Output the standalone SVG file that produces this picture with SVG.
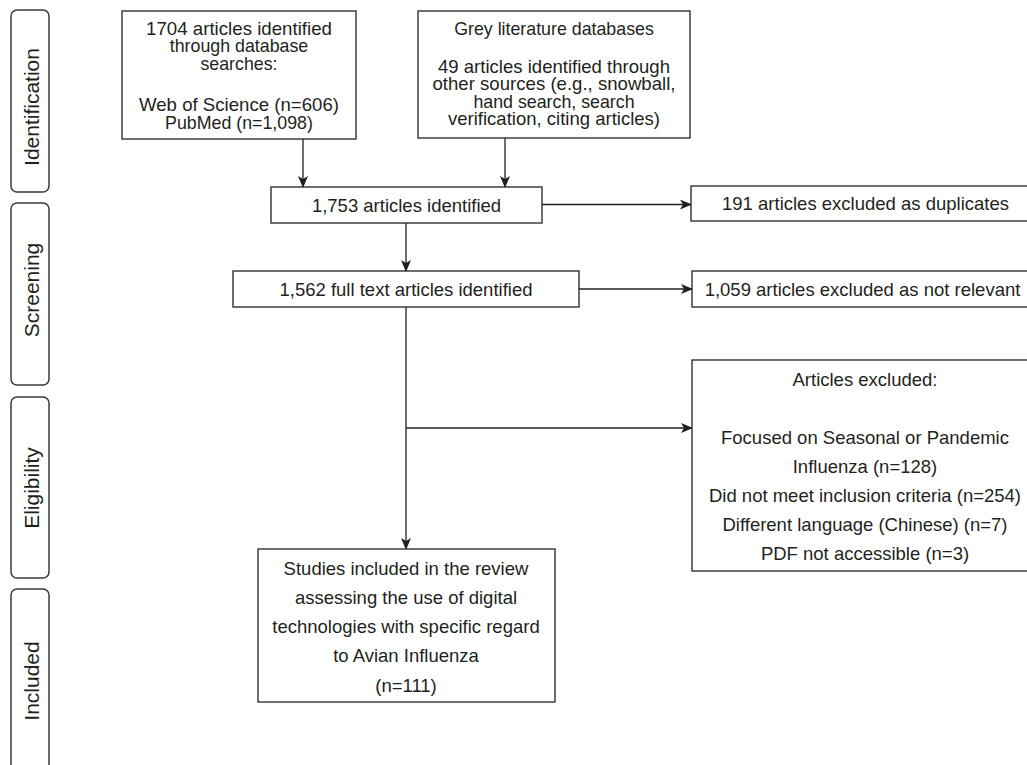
<svg xmlns="http://www.w3.org/2000/svg" width="1027" height="765" viewBox="0 0 1027 765">
<style>
  .box{fill:#fff;stroke:#231f20;stroke-width:1.3}
  .side{fill:#fff;stroke:#3a3a3a;stroke-width:1.5}
  text{font-family:"Liberation Sans",Arial,Helvetica,sans-serif;font-size:18.5px;fill:#231f20;text-anchor:middle}
  .tight{font-size:17.8px}
  .sl{font-size:21px}
  .ln{fill:none;stroke:#231f20;stroke-width:1.3}
</style>
<defs>
  <marker id="ah" markerWidth="12" markerHeight="10" refX="11" refY="5" orient="auto" markerUnits="userSpaceOnUse">
    <path d="M0,0 L12,5 L0,10 L3,5 Z" fill="#231f20"/>
  </marker>
</defs>
<rect width="1027" height="765" fill="#fff"/>

<g id="phase-identification">
  <rect class="side" x="11" y="10" width="38" height="182" rx="6"/>
  <text class="sl" transform="translate(38.5,107) rotate(-90)">Identification</text>
</g>
<g id="phase-screening">
  <rect class="side" x="11" y="203" width="38" height="182" rx="6"/>
  <text class="sl" transform="translate(38.5,290) rotate(-90)">Screening</text>
</g>
<g id="phase-eligibility">
  <rect class="side" x="11" y="397" width="38" height="181" rx="6"/>
  <text class="sl" transform="translate(38.5,488) rotate(-90)">Eligibility</text>
</g>
<g id="phase-included">
  <rect class="side" x="11" y="589" width="38" height="200" rx="6"/>
  <text class="sl" transform="translate(38.5,681) rotate(-90)">Included</text>
</g>

<g id="connectors">
  <line class="ln" x1="303" y1="139" x2="303" y2="187" marker-end="url(#ah)"/>
  <line class="ln" x1="505" y1="138" x2="505" y2="187" marker-end="url(#ah)"/>
  <line class="ln" x1="542" y1="204.5" x2="691" y2="204.5" marker-end="url(#ah)"/>
  <line class="ln" x1="406" y1="223" x2="406" y2="271" marker-end="url(#ah)"/>
  <line class="ln" x1="579" y1="289" x2="692" y2="289" marker-end="url(#ah)"/>
  <line class="ln" x1="406" y1="307" x2="406" y2="549" marker-end="url(#ah)"/>
  <line class="ln" x1="406" y1="428" x2="692" y2="428" marker-end="url(#ah)"/>
</g>

<g id="db-search">
  <rect class="box" x="122" y="11" width="234" height="128"/>
  <text class="tight" x="239" y="34.5" textLength="186" lengthAdjust="spacingAndGlyphs">1704 articles identified</text>
  <text class="tight" x="239" y="52">through database</text>
  <text class="tight" x="239" y="69.5">searches:</text>
  <text class="tight" x="239" y="111" textLength="200" lengthAdjust="spacingAndGlyphs">Web of Science (n=606)</text>
  <text class="tight" x="239" y="128.5">PubMed (n=1,098)</text>
</g>
<g id="grey-lit">
  <rect class="box" x="418" y="11" width="272" height="127"/>
  <text class="tight" x="554" y="34.5">Grey literature databases</text>
  <text class="tight" x="554" y="72.5" textLength="232" lengthAdjust="spacingAndGlyphs">49 articles identified through</text>
  <text class="tight" x="554" y="90" textLength="243" lengthAdjust="spacingAndGlyphs">other sources (e.g., snowball,</text>
  <text class="tight" x="554" y="107.5">hand search, search</text>
  <text class="tight" x="554" y="125" textLength="212" lengthAdjust="spacingAndGlyphs">verification, citing articles)</text>
</g>
<g id="identified">
  <rect class="box" x="271" y="187" width="271" height="36"/>
  <text x="406.5" y="212">1,753 articles identified</text>
</g>
<g id="duplicates">
  <rect class="box" x="691" y="186" width="349" height="35"/>
  <text x="865.5" y="210">191 articles excluded as duplicates</text>
</g>
<g id="full-text">
  <rect class="box" x="233" y="271" width="346" height="36"/>
  <text x="406" y="295.5">1,562 full text articles identified</text>
</g>
<g id="not-relevant">
  <rect class="box" x="692" y="271" width="348" height="36"/>
  <text x="862.5" y="295.5">1,059 articles excluded as not relevant</text>
</g>
<g id="excluded">
  <rect class="box" x="692" y="360" width="348" height="211"/>
  <text x="865" y="385.5">Articles excluded:</text>
  <text x="865" y="443.5">Focused on Seasonal or Pandemic</text>
  <text x="865" y="473">Influenza (n=128)</text>
  <text x="865" y="502">Did not meet inclusion criteria (n=254)</text>
  <text x="865" y="531">Different language (Chinese) (n=7)</text>
  <text x="865" y="560">PDF not accessible (n=3)</text>
</g>
<g id="included-studies">
  <rect class="box" x="258" y="549" width="297" height="153"/>
  <text x="406" y="574.5">Studies included in the review</text>
  <text x="406" y="603.5">assessing the use of digital</text>
  <text x="406" y="633">technologies with specific regard</text>
  <text x="406" y="662">to Avian Influenza</text>
  <text x="406" y="691.5">(n=111)</text>
</g>
</svg>
